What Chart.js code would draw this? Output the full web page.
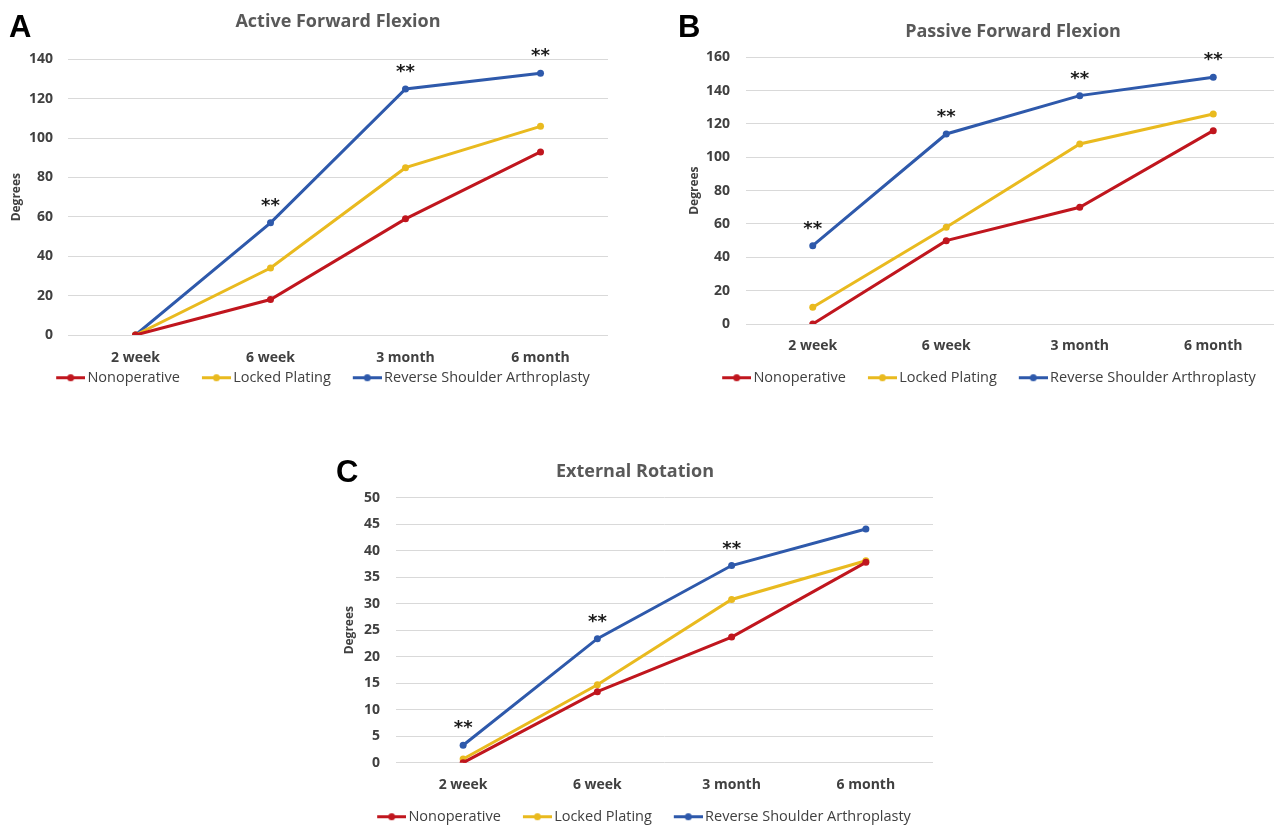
<!DOCTYPE html>
<html>
<head>
<meta charset="utf-8">
<script src="https://cdn.jsdelivr.net/npm/chart.js@4.4.1/dist/chart.umd.min.js"></script>
<style>
html,body{margin:0;padding:0;background:#fff;width:1274px;height:826px;overflow:hidden;position:relative;}
canvas{position:absolute;}
.letter{position:absolute;z-index:5;font-family:"Liberation Sans",Arial,sans-serif;font-weight:bold;font-size:31px;line-height:1;color:#000;}
</style>
</head>
<body>
<canvas id="cA" width="615" height="395" style="left:0px;top:0px;width:615px;height:395px"></canvas>
<canvas id="cB" width="630" height="395" style="left:660px;top:0px;width:630px;height:395px"></canvas>
<canvas id="cC" width="604" height="384" style="left:333px;top:450px;width:604px;height:384px"></canvas>
<div class="letter" style="left:9px;top:11px">A</div>
<div class="letter" style="left:678px;top:11px">B</div>
<div class="letter" style="left:336px;top:456px">C</div>
<script>
// ---- data ----
const categories = ['2 week', '6 week', '3 month', '6 month'];
const seriesNames = ['Nonoperative', 'Locked Plating', 'Reverse Shoulder Arthroplasty'];

const activeNonoperative = [0, 18, 59, 93];
const activeLocked = [0, 34, 85, 106];
const activeReverse = [0, 57, 125, 133];
const activeStars = [1, 2, 3];

const passiveNonoperative = [0, 50, 70, 116];
const passiveLocked = [10, 58, 108, 126];
const passiveReverse = [47, 114, 137, 148];
const passiveStars = [0, 1, 2, 3];

const externalNonoperative = [0, 13.4, 23.7, 37.8];
const externalLocked = [0.7, 14.7, 30.8, 38.1];
const externalReverse = [3.3, 23.4, 37.2, 44.1];
const externalStars = [0, 1, 2];

const activeTicks = [0, 20, 40, 60, 80, 100, 120, 140];
const passiveTicks = [0, 20, 40, 60, 80, 100, 120, 140, 160];
const externalTicks = [0, 5, 10, 15, 20, 25, 30, 35, 40, 45, 50];

// ---- styling ----
const colors = ['#C0161E', '#E9BA1F', '#2E59AB'];
Chart.defaults.font.family = '"Open Sans", sans-serif';

function markerImage(color) {
  const c = document.createElement('canvas');
  c.width = 52; c.height = 9;
  const g = c.getContext('2d');
  g.strokeStyle = color; g.lineWidth = 3;
  g.beginPath(); g.moveTo(23, 4.5); g.lineTo(52, 4.5); g.stroke();
  g.fillStyle = color;
  g.beginPath(); g.arc(37.5, 4.5, 3.5, 0, Math.PI * 2); g.fill();
  return c;
}
const markers = colors.map(markerImage);

const starsPlugin = {
  id: 'stars',
  afterDatasetsDraw(chart, args, opts) {
    const meta = chart.getDatasetMeta(2);
    const ctx = chart.ctx;
    ctx.save();
    ctx.font = 'bold 18px "DejaVu Sans"';
    ctx.fillStyle = '#1a1a1a';
    ctx.textAlign = 'center';
    ctx.textBaseline = 'alphabetic';
    (opts.indices || []).forEach(i => {
      const p = meta.data[i];
      ctx.fillText('**', p.x, p.y - 12);
    });
    ctx.restore();
  }
};

function makeChart(id, o) {
  const ticksSet = o.ticks;
  return new Chart(document.getElementById(id), {
    type: 'line',
    data: {
      labels: categories,
      datasets: seriesNames.map((n, k) => ({
        label: n,
        data: o.series[k],
        borderColor: colors[k],
        backgroundColor: colors[k],
        pointBackgroundColor: colors[k],
        pointBorderColor: colors[k],
        borderWidth: 3,
        pointRadius: 3.5,
        pointBorderWidth: 0,
        tension: 0,
        fill: false
      }))
    },
    options: {
      responsive: false,
      animation: false,
      devicePixelRatio: 1,
      layout: { padding: { left: o.padL, right: o.padR, top: 0, bottom: 0 } },
      plugins: {
        title: {
          display: true, text: o.title, fullSize: o.titleFull, color: '#595959',
          font: { family: '"Open Sans"', size: 18, weight: 'bold' },
          padding: { top: o.tTop, bottom: o.tBot }
        },
        legend: {
          position: 'bottom',
          labels: {
            usePointStyle: true, pointStyleWidth: 42, padding: 4, color: '#404040',
            font: { family: '"Open Sans"', size: 14.5 },
            generateLabels(chart) {
              return chart.data.datasets.map((ds, i) => ({
                text: ds.label, fillStyle: ds.borderColor, strokeStyle: ds.borderColor,
                lineWidth: 0, pointStyle: markers[i], hidden: false, datasetIndex: i, fontColor: '#404040'
              }));
            }
          }
        },
        tooltip: { enabled: false },
        stars: { indices: o.stars }
      },
      scales: {
        x: {
          offset: true,
          grid: { display: false, drawTicks: false },
          border: { display: false },
          ticks: { padding: o.xPad, color: '#404040', font: { family: '"Open Sans"', size: 14, weight: 'bold' } },
          afterFit: s => { s.height = o.xH; }
        },
        y: {
          min: ticksSet[0], max: ticksSet[ticksSet.length - 1],
          grid: { color: '#d9d9d9', drawTicks: false, lineWidth: 1 },
          border: { display: false },
          afterBuildTicks: s => { s.ticks = ticksSet.map(v => ({ value: v })); },
          ticks: { padding: o.tickPad, color: '#404040', font: { family: '"Open Sans"', size: 14, weight: 'bold' } },
          title: {
            display: true, text: 'Degrees', color: '#404040',
            font: { family: '"Open Sans"', size: 12, weight: 'bold' },
            padding: { top: o.ytPad, bottom: 0 }
          },
          afterFit: s => { s.width = o.yW; }
        }
      }
    },
    plugins: [starsPlugin]
  });
}

makeChart('cA', {
  title: 'Active Forward Flexion',
  series: [activeNonoperative, activeLocked, activeReverse],
  stars: activeStars, ticks: activeTicks,
  padL: 20, padR: 7, yW: 48, tickPad: 15, ytPad: -10.2, xPad: 14.5,
  titleFull: false, tTop: 11.2, tBot: 26.6, xH: 31.5
});
makeChart('cB', {
  title: 'Passive Forward Flexion',
  series: [passiveNonoperative, passiveLocked, passiveReverse],
  stars: passiveStars, ticks: passiveTicks,
  padL: 20, padR: 10, yW: 66, tickPad: 16, ytPad: 7.8, xPad: 14,
  titleFull: false, tTop: 20.7, tBot: 15, xH: 42.5
});
makeChart('cC', {
  title: 'External Rotation',
  series: [externalNonoperative, externalLocked, externalReverse],
  stars: externalStars, ticks: externalTicks,
  padL: 0, padR: 0, yW: 63, tickPad: 16, ytPad: 9.8, xPad: 14,
  titleFull: true, tTop: 11.2, tBot: 14.9, xH: 42.8
});
</script>
</body>
</html>
